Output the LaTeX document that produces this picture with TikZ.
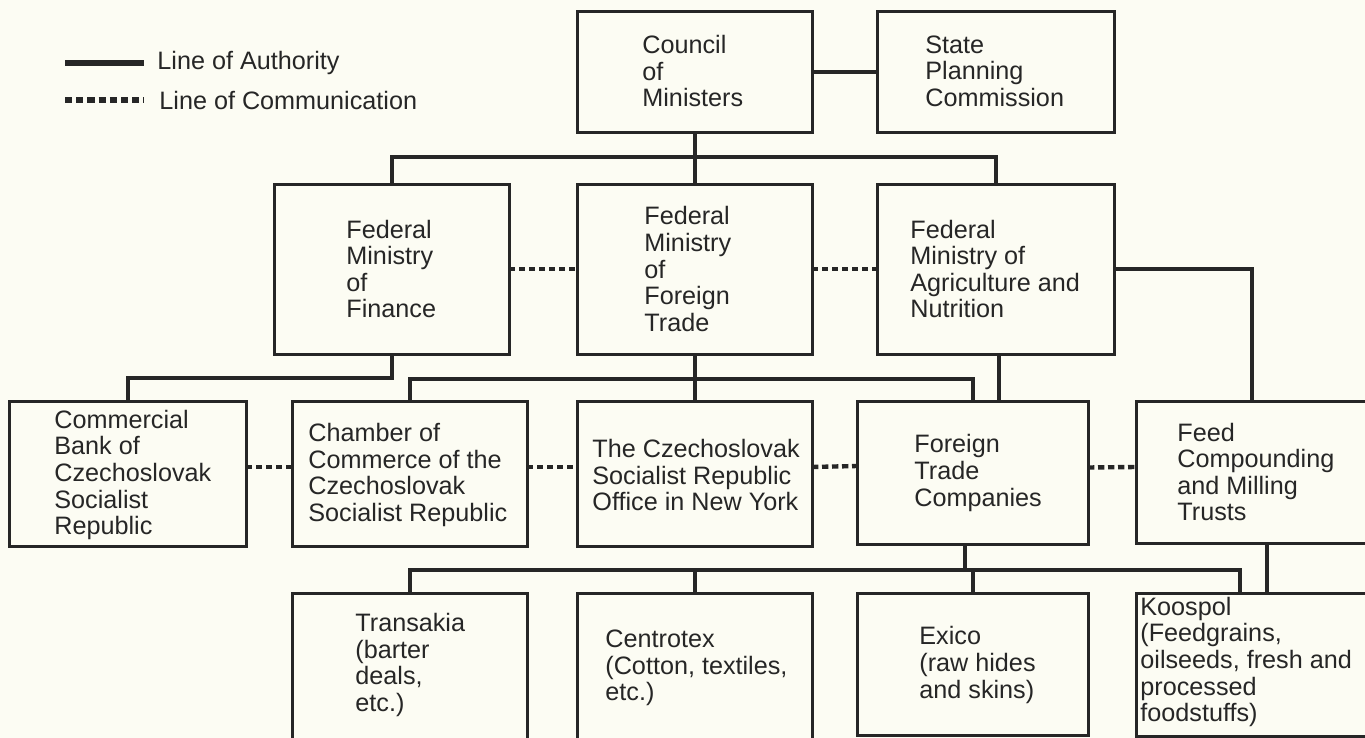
\documentclass[tikz,border=0pt]{standalone}
\usepackage{fontspec}
\setmainfont{Liberation Sans}
\definecolor{bg}{RGB}{252,252,243}
\definecolor{ink}{RGB}{38,38,38}
\newcommand\orgbox[5]{\node[box, minimum width={(#4-#2)*0.5pt}, minimum height={(#5-#3)*0.5pt}] (#1) at ({(#2+#4)/2},{(#3+#5)/2}) {};}
\begin{document}
\begin{tikzpicture}[x=0.5pt,y=-0.5pt,
  box/.style={draw=ink, line width=1.5pt, inner sep=0pt, outer sep=0pt, rectangle},
  txt/.style={align=left, inner sep=0pt, anchor=west, text=ink, font=\fontsize{12.6pt}{13.3pt}\selectfont},
  auth/.style={draw=ink, line width=2pt},
  comm/.style={draw=ink, line width=2.2pt, dash pattern=on 3.2pt off 1.8pt},
  legauth/.style={draw=ink, line width=3pt},
  legcomm/.style={draw=ink, line width=3pt, dash pattern=on 3.6pt off 2pt}]
\useasboundingbox (0,0) rectangle (1365,738);
\fill[bg] (0,0) rectangle (1365,738);
\clip (0,0) rectangle (1365,738);

% legend
\coordinate (la1) at (65,63);
\coordinate (la2) at (144,63);
\coordinate (lc1) at (65,100);
\coordinate (lc2) at (144,100);
\draw[legauth] (la1) -- (la2);
\draw[legcomm] (lc1) -- (lc2);
\node[txt] (legA) at (157,63) {Line of Authority};
\node[txt] (legC) at (159,100) {Line of Communication};

% boxes
\orgbox{council}{577}{12}{812}{133}
\orgbox{state}{877}{12}{1114}{133}
\orgbox{finance}{274}{184}{509}{354}
\orgbox{fft}{577}{184}{812}{354}
\orgbox{agri}{877}{184}{1114}{354}
\orgbox{bank}{9}{401}{246}{546}
\orgbox{chamber}{292}{401}{527}{546}
\orgbox{office}{577}{401}{812}{546}
\orgbox{ftc}{857}{401}{1088}{544}
\orgbox{feed}{1136}{401}{1420}{543}
\orgbox{transakia}{292}{593}{527}{770}
\orgbox{centrotex}{577}{593}{812}{770}
\orgbox{exico}{857}{593}{1088}{735}
\orgbox{koospol}{1136}{593}{1420}{736}

% texts
\node[txt] (councilT) at (642,71) {Council\\of\\Ministers};
\node[txt] (stateT) at (925,71) {State\\Planning\\Commission};
\node[txt] (financeT) at (346,269) {Federal\\Ministry\\of\\Finance};
\node[txt] (fftT) at (644,269) {Federal\\Ministry\\of\\Foreign\\Trade};
\node[txt] (agriT) at (910,269) {Federal\\Ministry of\\Agriculture and\\Nutrition};
\node[txt] (bankT) at (54,475) {Commercial\\Bank of\\Czechoslovak\\Socialist\\Republic};
\node[txt] (chamberT) at (308,475) {Chamber of\\Commerce of the\\Czechoslovak\\Socialist Republic};
\node[txt] (officeT) at (592,475) {The Czechoslovak\\Socialist Republic\\Office in New York};
\node[txt] (ftcT) at (914,473) {Foreign\\Trade\\Companies};
\node[txt] (feedT) at (1177,472) {Feed\\Compounding\\and Milling\\Trusts};
\node[txt] (transT) at (355,665) {Transakia\\(barter\\deals,\\etc.)};
\node[txt] (centroT) at (605,668) {Centrotex\\(Cotton, textiles,\\etc.)};
\node[txt] (exicoT) at (919,665) {Exico\\(raw hides\\and skins)};
\node[txt] (koosT) at (1140,662) {Koospol\\(Feedgrains,\\oilseeds, fresh and\\processed\\foodstuffs)};

% lines of authority
\draw[auth] (council.east) -- (state.west);
\coordinate (bus1) at (694.5,157);
\draw[auth] (finance.north) |- (bus1) -| (agri.north);
\draw[auth] (council.south) -- (fft.north);
\draw[auth] (agri.east) -| ([xshift=58pt]feed.north west);
\draw[auth] (finance.south) -- ++(0,24) -| (bank.north);
\coordinate (bus2) at (694.5,379);
\draw[auth] (chamber.north) |- (bus2) -| (ftc.north);
\draw[auth] (fft.south) -- (office.north);
\draw[auth] ([xshift=1.75pt]agri.south) -- ([xshift=1.75pt]agri.south |- ftc.north);
\coordinate (bus3) at (972.5,570);
\draw[auth] (transakia.north) |- (bus3) -| ([xshift=52pt]koospol.north west);
\draw[auth] ([xshift=-3.75pt]ftc.south) -- ([xshift=-3.75pt]ftc.south |- bus3);
\draw[auth] (exico.north) -- (exico.north |- bus3);
\draw[auth] (centrotex.north) -- (centrotex.north |- bus3);
\draw[auth] ([xshift=65.5pt]feed.south west) -- ([xshift=65.5pt]koospol.north west);

% lines of communication
\draw[comm] (finance.east) -- (fft.west);
\draw[comm] (fft.east) -- (agri.west);
\draw[comm] ([yshift=3.25pt]bank.east) -- ([yshift=3.25pt]chamber.west);
\draw[comm] ([yshift=3.25pt]chamber.east) -- ([yshift=3.25pt]office.west);
\draw[comm] ([yshift=3.25pt]office.east) -- ([yshift=3.25pt]ftc.west);
\draw[comm] ([yshift=2.5pt]ftc.east) -- ([yshift=2.5pt]feed.west);
\end{tikzpicture}
\end{document}
